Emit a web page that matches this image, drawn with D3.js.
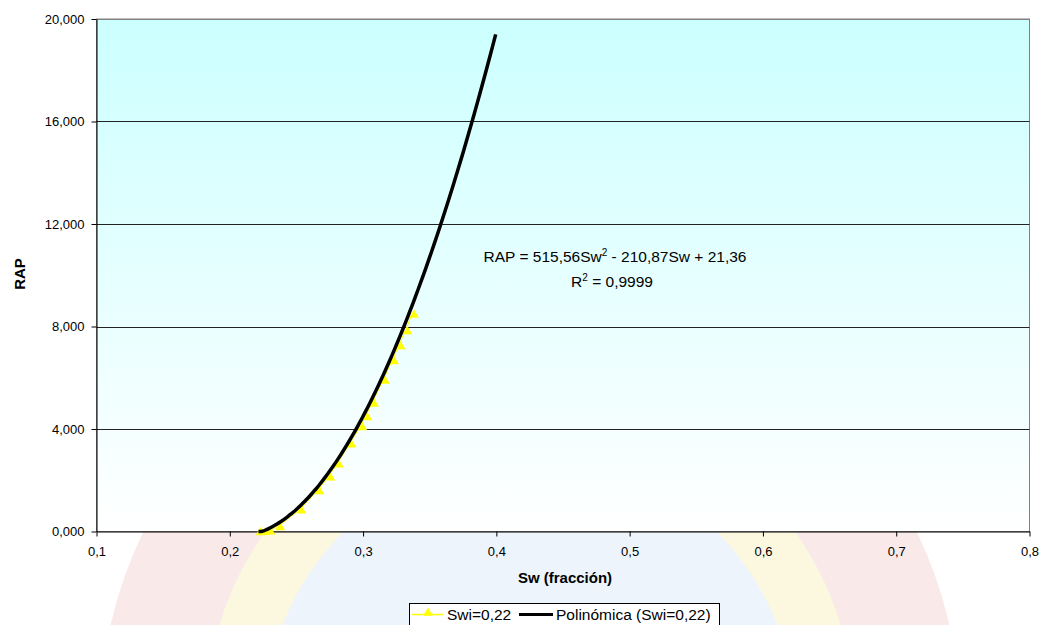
<!DOCTYPE html>
<html>
<head>
<meta charset="utf-8">
<script src="https://cdn.jsdelivr.net/npm/d3@7"></script>
<style>
  body { margin: 0; background: #fff; }
  text { font-family: "Liberation Sans", Arial, sans-serif; }
</style>
</head>
<body>
<script>
// puntos medidos (Swi=0,22)
const sw  = [0.2215, 0.2253, 0.229, 0.2363, 0.2523, 0.2658, 0.274, 0.2805, 0.2898, 0.298, 0.3018, 0.3068, 0.315, 0.3218, 0.3267, 0.3318, 0.3368]
const rap = [0.0, 0.01, 0.03, 0.195, 0.846, 1.599, 2.134, 2.641, 3.421, 4.096, 4.486, 5.02, 5.918, 6.67, 7.256, 7.841, 8.49]
// tendencia polinómica (coeficientes de la ecuación mostrada)
const coef = [515.56, -210.87, 21.36]
const trendRange = [0.2215, 0.4]
const xTicks = [0.1, 0.2, 0.3, 0.4, 0.5, 0.6, 0.7, 0.8]
const yTicks = [0, 4, 8, 12, 16, 20]

let w = 1042, h = 625
let m = {l: 96.5, r: 1029.5, t: 19, b: 531.5}

let svg = d3.select("body").append("svg").attr("width", w).attr("height", h)
let defs = svg.append("defs")
let grad = defs.append("linearGradient").attr("id", "bg")
    .attr("x1", 0).attr("y1", 0).attr("x2", 0).attr("y2", 1)
grad.append("stop").attr("offset", "0%").attr("stop-color", "#ccffff")
grad.append("stop").attr("offset", "100%").attr("stop-color", "#ffffff")

// sello de fondo (marca de agua)
let wm = svg.append("g").attr("opacity", 0.6)
wm.append("circle").attr("cx", 530).attr("cy", 720).attr("r", 430).attr("fill", "#f7dcdc")
wm.append("circle").attr("cx", 530).attr("cy", 720).attr("r", 325).attr("fill", "#fbf4cc")
wm.append("circle").attr("cx", 530).attr("cy", 720).attr("r", 265).attr("fill", "#e2eefa")

let x = d3.scaleLinear().domain([0.1, 0.8]).range([m.l, m.r])
let y = d3.scaleLinear().domain([0, 20]).range([m.b, m.t])
let fmtX = d => d3.format(".1f")(d).replace(".", ",")
let fmtY = d => d3.format(".3f")(d).replace(".", ",")

svg.append("rect")
    .attr("x", m.l).attr("y", m.t)
    .attr("width", m.r - m.l).attr("height", m.b - m.t)
    .attr("fill", "url(#bg)").attr("stroke", "#808080").attr("stroke-width", 1)

// líneas de división
svg.append("g").selectAll("line")
    .data(yTicks.filter(d => d > 0))
    .enter().append("line")
        .attr("x1", m.l).attr("x2", m.r)
        .attr("y1", d => Math.round(y(d)) + 0.5).attr("y2", d => Math.round(y(d)) + 0.5)
        .style("stroke", d => d === 20 ? "#808080" : "#222")
        .style("stroke-width", 1)

// ejes
let gx = svg.append("g").attr("transform", `translate(0,${m.b})`)
    .call(d3.axisBottom(x).tickValues(xTicks).tickFormat(fmtX).tickSize(5).tickSizeOuter(0))
let gy = svg.append("g").attr("transform", `translate(${m.l},0)`)
    .call(d3.axisLeft(y).tickValues(yTicks).tickFormat(fmtY).tickSize(5).tickSizeOuter(0))
;[gx, gy].forEach(g => {
    g.select(".domain").attr("stroke", "#000")
    g.selectAll(".tick line").attr("stroke", "#000")
    g.selectAll("text").attr("fill", "#000").style("font-size", "13px")
})
gx.selectAll("text").attr("dy", "1.25em")
gy.selectAll("text").attr("x", -12)

// serie
let pts = sw.map((d, i) => [d, rap[i]])
svg.append("path")
    .attr("d", d3.line().x(d => x(d[0])).y(d => y(d[1]))(pts))
    .attr("fill", "none").attr("stroke", "#ffff00").attr("stroke-width", 1)
let tri = d3.symbol().type(d3.symbolTriangle).size(40)
svg.append("g").selectAll("path")
    .data(pts)
    .enter().append("path")
        .attr("d", tri)
        .attr("transform", d => `translate(${x(d[0]) + 2},${y(d[1]) + 1})`)
        .attr("fill", "#ffff00")

// línea de tendencia
let tx = d3.range(trendRange[0], trendRange[1] + 1e-9, 0.002)
let trend = tx.map(s => [s, Math.max(0, coef[0] * s * s + coef[1] * s + coef[2])])
svg.append("path")
    .attr("d", d3.line().x(d => x(d[0])).y(d => y(d[1])).curve(d3.curveMonotoneX)(trend))
    .attr("fill", "none").attr("stroke", "#000").attr("stroke-width", 3.5)

// ecuación
let eq = svg.append("text").attr("x", 615).attr("y", 262).attr("text-anchor", "middle").style("font-size", "15.5px")
eq.append("tspan").text("RAP = 515,56Sw")
eq.append("tspan").text("2").attr("dy", -6).style("font-size", "10px")
eq.append("tspan").text(" - 210,87Sw + 21,36").attr("dy", 6)
let r2 = svg.append("text").attr("x", 612).attr("y", 287).attr("text-anchor", "middle").style("font-size", "15.5px")
r2.append("tspan").text("R")
r2.append("tspan").text("2").attr("dy", -6).style("font-size", "10px")
r2.append("tspan").text(" = 0,9999").attr("dy", 6)

// títulos
svg.append("text").attr("x", 565).attr("y", 583)
    .attr("text-anchor", "middle").style("font-size", "15px").style("font-weight", "bold")
    .text("Sw (fracción)")
svg.append("text").attr("transform", "translate(25,274) rotate(-90)")
    .attr("text-anchor", "middle").style("font-size", "15px").style("font-weight", "bold")
    .text("RAP")

// leyenda
let lg = svg.append("g")
lg.append("rect").attr("x", 409.5).attr("y", 603.5).attr("width", 310).attr("height", 30)
    .attr("fill", "#fff").attr("stroke", "#000")
lg.append("line").attr("x1", 412).attr("x2", 443).attr("y1", 614.5).attr("y2", 614.5).attr("stroke", "#ffff00").attr("stroke-width", 1.5)
lg.append("path").attr("d", tri).attr("transform", "translate(428,613)").attr("fill", "#ffff00")
lg.append("text").attr("x", 447).attr("y", 620).style("font-size", "15.5px").text("Swi=0,22")
lg.append("line").attr("x1", 519).attr("x2", 553).attr("y1", 614.5).attr("y2", 614.5).attr("stroke", "#000").attr("stroke-width", 3)
lg.append("text").attr("x", 556).attr("y", 620).style("font-size", "15.5px").text("Polinómica (Swi=0,22)")
</script>
</body>
</html>
